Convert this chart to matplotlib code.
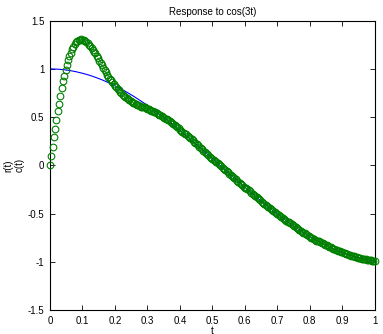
import numpy as np
import matplotlib
matplotlib.use('Agg')
import matplotlib.pyplot as plt

# reference input r(t) = cos(3t), read every 0.02 s
r = [1.000, 0.998, 0.993, 0.984, 0.971, 0.955, 0.936, 0.913, 0.887, 0.858,
     0.825, 0.790, 0.752, 0.711, 0.667, 0.622, 0.574, 0.523, 0.471, 0.418,
     0.362, 0.306, 0.248, 0.190, 0.130, 0.071, 0.011, -0.049, -0.109, -0.168,
     -0.227, -0.285, -0.342, -0.398, -0.452, -0.505, -0.556, -0.604, -0.651, -0.695,
     -0.737, -0.777, -0.813, -0.846, -0.877, -0.904, -0.928, -0.949, -0.966, -0.980,
     -0.990]

# system output c(t), one sample every 0.004 s
c = [0.00, 0.10, 0.19, 0.29, 0.38, 0.47, 0.56, 0.64, 0.72, 0.80,
     0.87, 0.93, 0.99, 1.04, 1.09, 1.13, 1.17, 1.21, 1.23, 1.26,
     1.28, 1.29, 1.30, 1.30, 1.31, 1.30, 1.30, 1.29, 1.28, 1.27,
     1.25, 1.24, 1.22, 1.20, 1.18, 1.16, 1.13, 1.11, 1.08, 1.06,
     1.04, 1.01, 0.99, 0.97, 0.94, 0.92, 0.90, 0.88, 0.86, 0.84,
     0.82, 0.81, 0.79, 0.78, 0.76, 0.75, 0.73, 0.72, 0.71, 0.70,
     0.69, 0.68, 0.67, 0.66, 0.65, 0.65, 0.64, 0.63, 0.63, 0.62,
     0.61, 0.61, 0.60, 0.60, 0.59, 0.58, 0.58, 0.57, 0.56, 0.56,
     0.55, 0.55, 0.54, 0.53, 0.52, 0.52, 0.51, 0.50, 0.49, 0.48,
     0.48, 0.47, 0.46, 0.45, 0.44, 0.43, 0.42, 0.41, 0.40, 0.39,
     0.37, 0.36, 0.35, 0.34, 0.33, 0.32, 0.30, 0.29, 0.28, 0.27,
     0.26, 0.24, 0.23, 0.22, 0.21, 0.19, 0.18, 0.17, 0.15, 0.14,
     0.13, 0.12, 0.11, 0.09, 0.08, 0.07, 0.06, 0.05, 0.03, 0.02,
     0.01, 0.00, -0.01, -0.03, -0.04, -0.05, -0.06, -0.07, -0.09, -0.10,
     -0.11, -0.12, -0.13, -0.14, -0.16, -0.17, -0.18, -0.19, -0.20, -0.22,
     -0.23, -0.24, -0.25, -0.26, -0.27, -0.29, -0.30, -0.31, -0.32, -0.33,
     -0.34, -0.35, -0.36, -0.38, -0.39, -0.40, -0.41, -0.42, -0.43, -0.44,
     -0.45, -0.46, -0.47, -0.48, -0.49, -0.50, -0.52, -0.53, -0.54, -0.55,
     -0.56, -0.57, -0.58, -0.59, -0.59, -0.60, -0.61, -0.62, -0.63, -0.64,
     -0.65, -0.66, -0.67, -0.68, -0.69, -0.70, -0.70, -0.71, -0.72, -0.73,
     -0.74, -0.75, -0.75, -0.76, -0.77, -0.78, -0.78, -0.79, -0.80, -0.81,
     -0.81, -0.82, -0.83, -0.83, -0.84, -0.85, -0.85, -0.86, -0.87, -0.87,
     -0.88, -0.88, -0.89, -0.89, -0.90, -0.90, -0.91, -0.91, -0.92, -0.92,
     -0.93, -0.93, -0.94, -0.94, -0.94, -0.95, -0.95, -0.96, -0.96, -0.96,
     -0.97, -0.97, -0.97, -0.97, -0.98, -0.98, -0.98, -0.98, -0.99, -0.99,
     -0.99]

x_ticks = [0, 0.1, 0.2, 0.3, 0.4, 0.5, 0.6, 0.7, 0.8, 0.9, 1]
x_labels = ['0', '0.1', '0.2', '0.3', '0.4', '0.5', '0.6', '0.7', '0.8', '0.9', '1']
y_ticks = [-1.5, -1, -0.5, 0, 0.5, 1, 1.5]
y_labels = ['-1.5', '-1', '-0.5', '0', '0.5', '1', '1.5']

# time grids for the two series
t_r = np.linspace(0, 1, len(r))
t_c = np.linspace(0, 1, len(c))

plt.rcParams['font.family'] = ['Liberation Sans', 'DejaVu Sans']
plt.rcParams['font.size'] = 7

fig = plt.figure(figsize=(3.83, 3.34), dpi=100)
ax = fig.add_axes([0.1305, 0.072, 0.848, 0.866])

ax.plot(t_r, r, color='#0000ff', linewidth=0.8, zorder=2)
ax.plot(t_c, c, 'o', markerfacecolor='none', markeredgecolor='#008000',
        markersize=4.8, markeredgewidth=0.8, zorder=3, clip_on=False)

ax.set_xlim(0, 1)
ax.set_ylim(-1.5, 1.5)
ax.set_xticks(x_ticks)
ax.set_xticklabels(x_labels)
ax.set_yticks(y_ticks)
ax.set_yticklabels(y_labels)

# MATLAB style box: ticks inside on all four sides
ax.tick_params(direction='in', length=3.5, width=0.6, top=True, right=True, pad=4)
for s in ax.spines.values():
    s.set_linewidth(0.8)

ax.set_title('Response to cos(3t)', fontsize=7, pad=4)
ax.set_ylabel('r(t)\nc(t)', fontsize=7, labelpad=2, linespacing=1.25)
ax.set_xlabel('t', fontsize=7, labelpad=0)

fig.savefig('out.png', dpi=100, facecolor='white')
